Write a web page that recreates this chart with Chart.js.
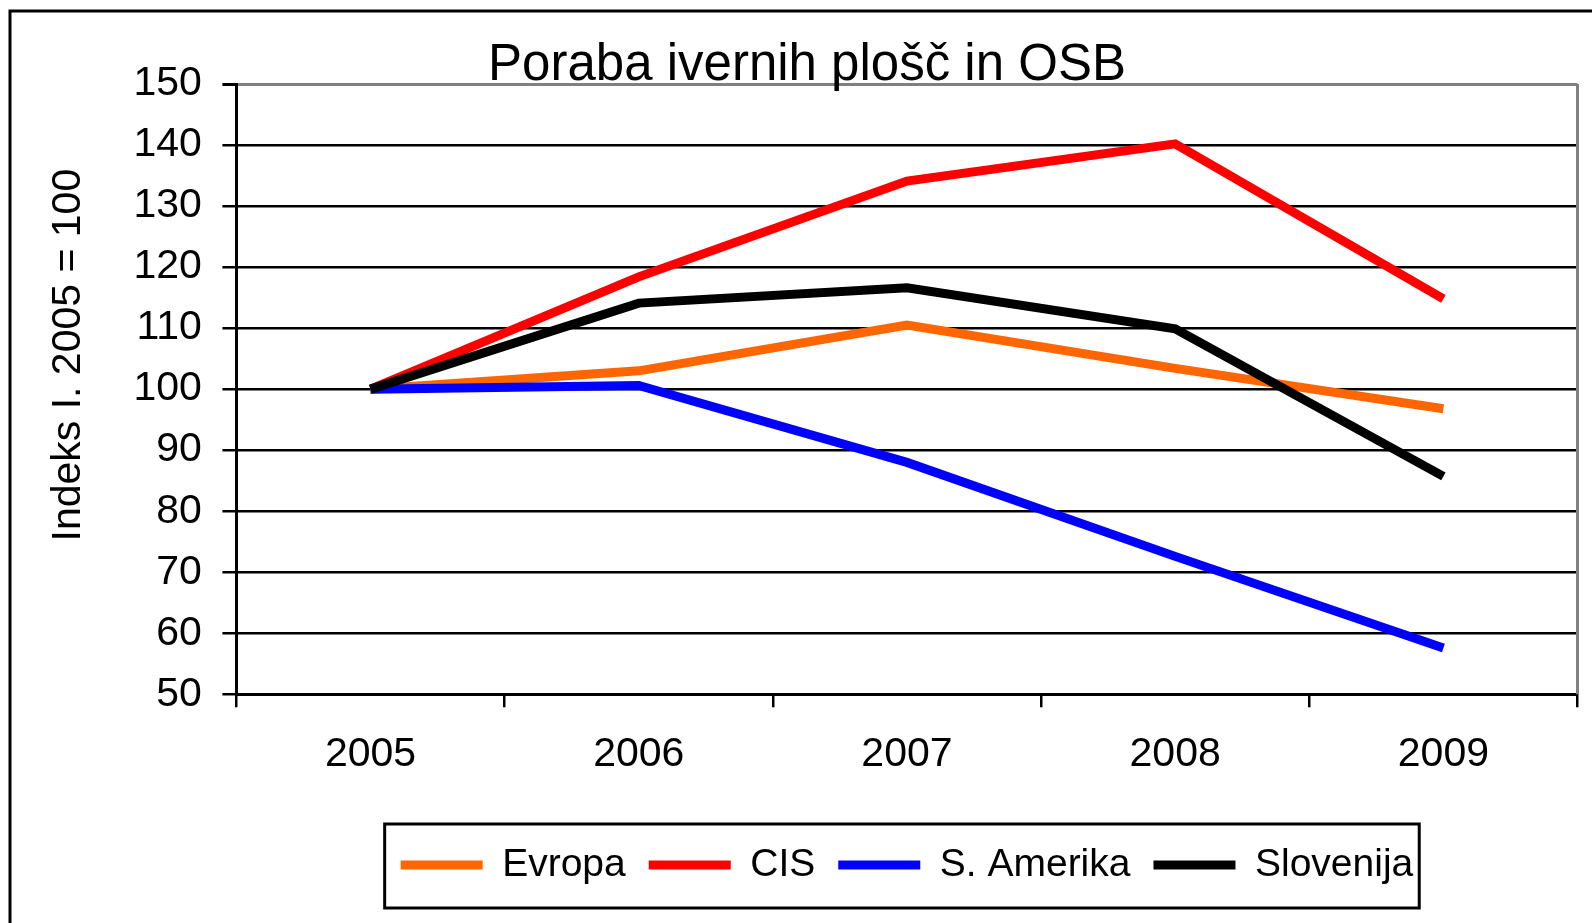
<!DOCTYPE html>
<html>
<head>
<meta charset="utf-8">
<title>Poraba ivernih plošč in OSB</title>
<script src="https://cdn.jsdelivr.net/npm/chart.js@4.4.0/dist/chart.umd.min.js"></script>
<style>
  html, body { margin: 0; padding: 0; background: #fff; }
  canvas { display: block; }
</style>
</head>
<body>
<canvas id="myChart" width="1592" height="923"></canvas>
<script>
// data
const years = ['2005', '2006', '2007', '2008', '2009'];
const evropa = [100, 103.0, 110.5, 103.4, 96.8];
const cis = [100, 118.4, 134.1, 140.2, 114.8];
const sAmerika = [100, 100.6, 88.0, 72.6, 57.6];
const slovenija = [100, 114.1, 116.6, 109.9, 85.7];
const yMin = 50;
const yMax = 150;
const yStep = 10;

const chartTitle = 'Poraba ivernih plošč in OSB';
const yTitle = 'Indeks I. 2005 = 100';
const FONT = "'Liberation Sans', Arial, sans-serif";

// frame, titles, plot border and legend box
const decor = {
  id: 'decor',
  beforeDraw(chart) {
    const ctx = chart.ctx;
    ctx.save();
    ctx.fillStyle = '#fff';
    ctx.fillRect(0, 0, chart.width, chart.height);
    ctx.strokeStyle = '#000';
    ctx.lineWidth = 3;
    ctx.beginPath();
    ctx.moveTo(10, chart.height + 5);
    ctx.lineTo(10, 11);
    ctx.lineTo(chart.width + 5, 11);
    ctx.stroke();
    ctx.restore();
  },
  afterDraw(chart) {
    const ctx = chart.ctx;
    const area = chart.chartArea;
    ctx.save();
    // right border of the plot area
    ctx.strokeStyle = '#808080';
    ctx.lineWidth = 3;
    ctx.beginPath();
    ctx.moveTo(area.right, area.top);
    ctx.lineTo(area.right, area.bottom);
    ctx.stroke();

    // title
    ctx.fillStyle = '#000';
    ctx.font = '51px ' + FONT;
    ctx.textAlign = 'center';
    ctx.textBaseline = 'alphabetic';
    ctx.fillText(chartTitle, 807, 80);

    // y axis title
    ctx.save();
    ctx.translate(69, (area.top + area.bottom) / 2 - 34);
    ctx.rotate(-Math.PI / 2);
    ctx.font = '41px ' + FONT;
    ctx.textBaseline = 'middle';
    ctx.fillText(yTitle, 0, 0);
    ctx.restore();

    // legend frame
    const boxes = chart.legend.legendHitBoxes;
    if (boxes && boxes.length) {
      const first = boxes[0];
      const last = boxes[boxes.length - 1];
      const cy = first.top + first.height / 2;
      const x0 = first.left - 16;
      const x1 = last.left + last.width + 6;
      ctx.strokeStyle = '#000';
      ctx.lineWidth = 3;
      ctx.strokeRect(x0, cy - 41, x1 - x0, 84);
    }
    ctx.restore();
  }
};

function line(label, data, color, order) {
  return {
    label: label,
    data: data,
    borderColor: color,
    backgroundColor: color,
    borderWidth: 9,
    pointRadius: 0,
    pointHoverRadius: 0,
    tension: 0,
    borderJoinStyle: 'miter',
    borderCapStyle: 'butt',
    fill: false,
    order: order,
  };
}

window.onload = function() {
  var ctx = document.getElementById('myChart').getContext('2d');
  Chart.defaults.font.family = FONT;
  Chart.defaults.color = '#000';
  new Chart(ctx, {
    type: 'line',
    data: {
      labels: years,
      datasets: [
        line('Evropa', evropa, '#FF6600', 4),
        line('CIS', cis, '#FF0000', 3),
        line('S. Amerika', sAmerika, '#0000FF', 2),
        line('Slovenija', slovenija, '#000000', 1),
      ],
    },
    options: {
      responsive: false,
      animation: false,
      devicePixelRatio: 1,
      layout: {
        padding: { top: 84, left: 113, right: 14.5, bottom: 28.5 },
      },
      plugins: {
        title: { display: false },
        tooltip: { enabled: false },
        legend: {
          position: 'bottom',
          fullSize: false,
          labels: {
            boxWidth: 82,
            boxHeight: 9,
            padding: 23,
            color: '#000',
            font: { size: 39 },
            sort: (a, b) => a.datasetIndex - b.datasetIndex,
            generateLabels: function(chart) {
              return chart.data.datasets.map((ds, i) => ({
                text: ds.label,
                fillStyle: ds.borderColor,
                strokeStyle: ds.borderColor,
                lineWidth: 0,
                hidden: false,
                datasetIndex: i,
              }));
            },
          },
        },
      },
      scales: {
        x: {
          offset: true,
          grid: {
            offset: true,
            drawOnChartArea: false,
            drawTicks: true,
            tickLength: 13,
            color: '#000',
            lineWidth: 2.5,
          },
          border: { color: '#000', width: 3 },
          ticks: {
            padding: 22.5,
            color: '#000',
            font: { size: 41 },
            maxRotation: 0,
            autoSkip: false,
          },
          afterFit: function(scale) {
            scale.height += 21;
          },
        },
        y: {
          min: yMin,
          max: yMax,
          ticks: {
            stepSize: yStep,
            padding: 20.5,
            color: '#000',
            font: { size: 41 },
          },
          grid: {
            color: c => (c.tick && c.tick.value === yMax ? '#808080' : '#000'),
            lineWidth: c => (c.tick && c.tick.value === yMax ? 3 : 2.5),
            tickColor: '#000',
            tickLength: 14,
            drawTicks: true,
          },
          border: { color: '#000', width: 3 },
        },
      },
    },
    plugins: [decor],
  });
};
</script>
</body>
</html>
